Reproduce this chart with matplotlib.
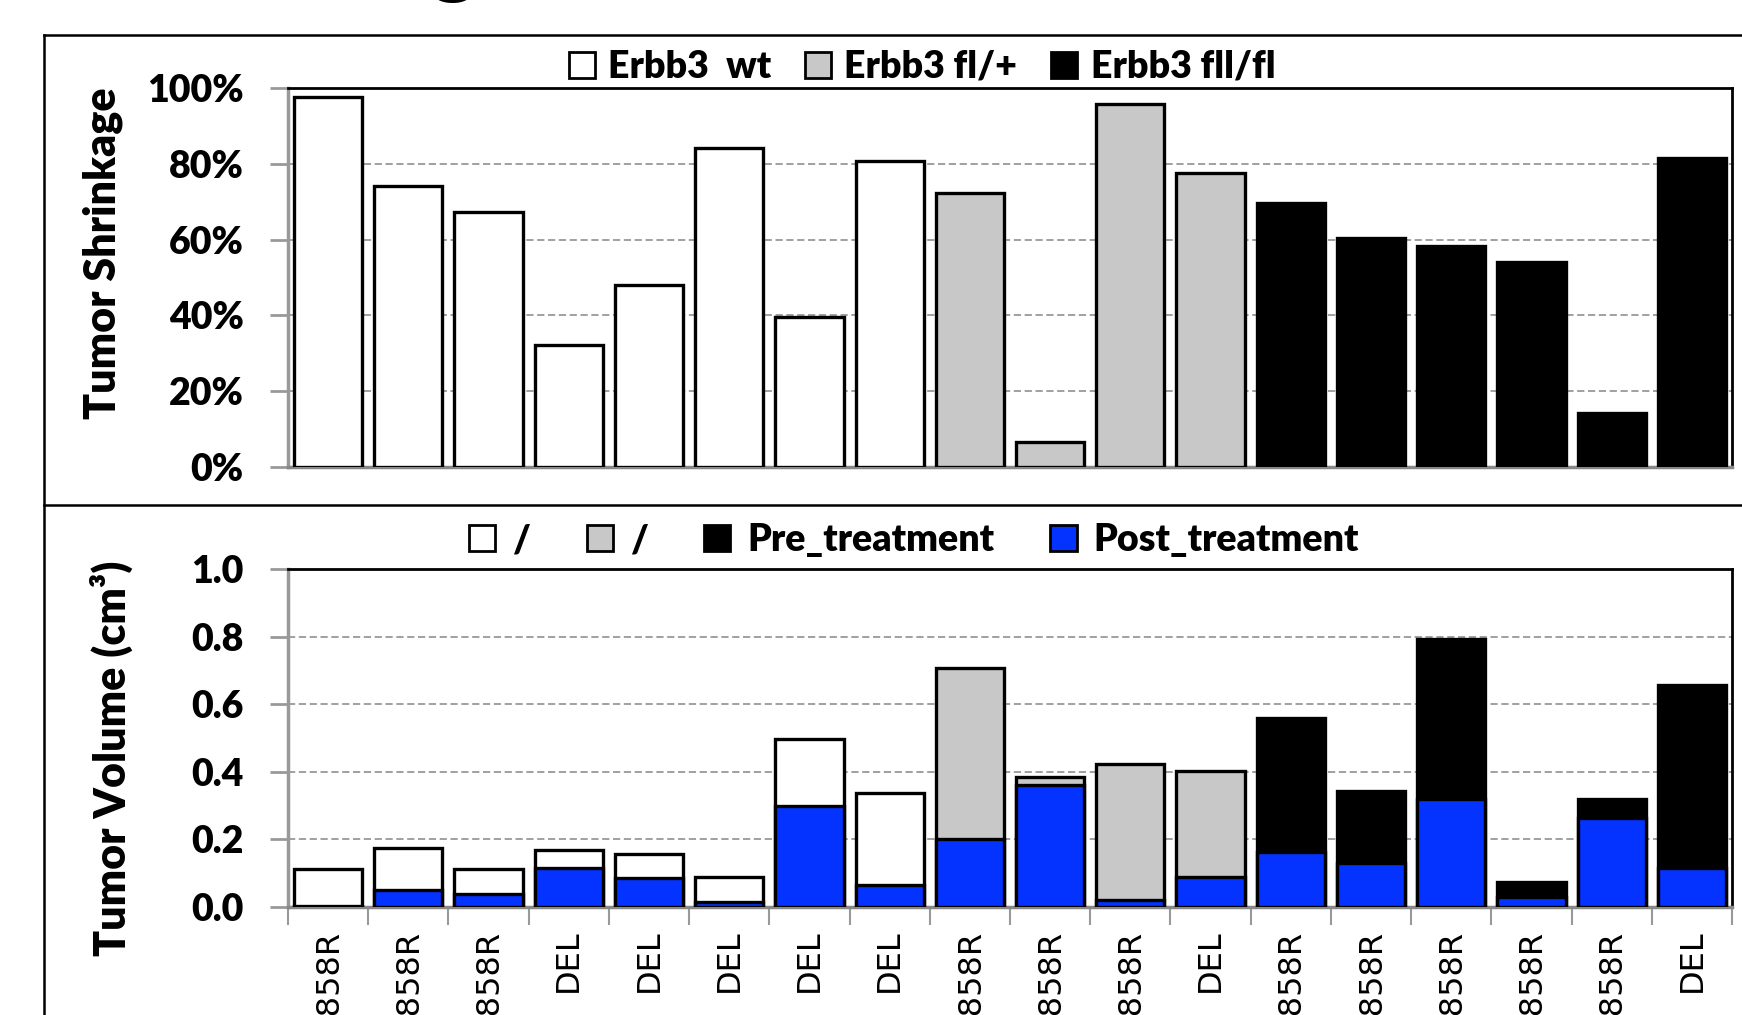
import matplotlib
matplotlib.use("Agg")
import matplotlib.pyplot as plt
from matplotlib.patches import Patch
from matplotlib.lines import Line2D
import numpy as np

# data
mutation = ["L858R", "L858R", "L858R", "DEL", "DEL", "DEL", "DEL", "DEL",
            "L858R", "L858R", "L858R", "DEL",
            "L858R", "L858R", "L858R", "L858R", "L858R", "DEL"]
genotype = ["wt"] * 8 + ["fl/+"] * 4 + ["fl/fl"] * 6
shrinkage = [97.5, 74.2, 67.2, 32.2, 48.1, 84.1, 39.5, 80.8, 72.3, 6.5, 95.9, 77.6,
             69.6, 60.5, 58.4, 54.0, 14.2, 81.6]
pre_vol = [0.112, 0.174, 0.112, 0.168, 0.158, 0.089, 0.497, 0.336, 0.707, 0.385,
           0.424, 0.401, 0.559, 0.344, 0.794, 0.075, 0.320, 0.657]
post_vol = [0.003, 0.049, 0.039, 0.115, 0.086, 0.016, 0.299, 0.066, 0.201, 0.362,
            0.020, 0.088, 0.164, 0.129, 0.321, 0.029, 0.262, 0.116]

geno_colors = {"wt": "white", "fl/+": "#c8c8c8", "fl/fl": "black"}
top_legend = ["Erbb3  wt", "Erbb3 fl/+", "Erbb3 fll/fl"]
bot_legend = ["/", "/", "Pre_treatment", "Post_treatment"]
blue = "#0433ff"
WT = "heavy"

plt.rcParams['font.family'] = ['Lato', 'DejaVu Sans']
plt.rcParams['font.weight'] = WT

fig = plt.figure(figsize=(17.42, 10.15), dpi=100)
W, H = 1742, 1015

ax1 = fig.add_axes([288 / W, 1 - 467 / H, 1444 / W, 379 / H])
ax2 = fig.add_axes([288 / W, 1 - 907 / H, 1444 / W, 338 / H])

x = np.arange(len(shrinkage))
cols = [geno_colors[g] for g in genotype]
bw = 0.85

# top: tumor shrinkage
ax1.bar(x, np.array(shrinkage) / 100, width=bw, color=cols, edgecolor="black",
        linewidth=2.4, zorder=3)
ax1.set_xlim(-0.5, len(x) - 0.5)
ax1.set_ylim(0, 1)
ax1.set_yticks(np.arange(0, 1.01, 0.2))
ax1.set_yticklabels([f"{int(round(v * 100))}%" for v in np.arange(0, 1.01, 0.2)])
ax1.set_xticks([])
ax1.set_ylabel("Tumor Shrinkage", fontsize=31, fontweight=WT)
ax1.yaxis.set_label_coords(-0.1285, 0.565)
ax1.yaxis.label.set_verticalalignment("center")

# bottom: tumor volumes
ax2.bar(x, pre_vol, width=bw, color=cols, edgecolor="black", linewidth=2.4, zorder=3)
ax2.bar(x, post_vol, width=bw, color=blue, edgecolor="black", linewidth=2.4, zorder=4)
ax2.set_xlim(-0.5, len(x) - 0.5)
ax2.set_ylim(0, 1)
ax2.set_yticks(np.arange(0, 1.01, 0.2))
ax2.set_yticklabels([f"{v:.1f}" for v in np.arange(0, 1.01, 0.2)])
ax2.set_xticks(x)
ax2.set_xticklabels(mutation, rotation=90, fontsize=23, fontweight="normal",
                    family="DejaVu Sans", va="top")
ax2.set_xticks(np.arange(-0.5, len(x), 1), minor=True)
ax2.tick_params(axis="x", which="major", length=0, pad=16)
ax2.tick_params(axis="x", which="minor", length=13, width=1.5, color="#999999")
ax2.set_ylabel("Tumor Volume (cm³)", fontsize=31, fontweight=WT)
ax2.yaxis.set_label_coords(-0.122, 0.439)
ax2.yaxis.label.set_verticalalignment("center")

for ax in (ax1, ax2):
    ax.grid(axis="y", linestyle=(0, (4, 2)), color="#999999", linewidth=1.3, zorder=0)
    ax.tick_params(axis="y", length=13, width=2, color="#999999", pad=19, labelsize=27)
    for lab in ax.get_yticklabels():
        lab.set_fontweight(WT)
    ax.spines["left"].set_color("#999999")
    ax.spines["left"].set_linewidth(2.5)
    ax.spines["bottom"].set_color("#888888")
    ax.spines["bottom"].set_linewidth(2.5)
    ax.spines["top"].set_color("black")
    ax.spines["top"].set_linewidth(2)
    ax.spines["right"].set_color("black")
    ax.spines["right"].set_linewidth(2)

# legends
h1 = [Patch(facecolor=geno_colors[g], edgecolor="black", linewidth=2)
      for g in ["wt", "fl/+", "fl/fl"]]
fig.legend(h1, top_legend, loc="center", bbox_to_anchor=(922 / W, 1 - 67 / H), ncol=3,
           frameon=False, handlelength=0.7, handleheight=0.7,
           handletextpad=0.35, columnspacing=0.9, prop={"weight": WT, "size": 27})

h2 = [Patch(facecolor="white", edgecolor="black", linewidth=2),
      Patch(facecolor="#c8c8c8", edgecolor="black", linewidth=2),
      Patch(facecolor="black", edgecolor="black", linewidth=2),
      Patch(facecolor=blue, edgecolor="black", linewidth=2)]
fig.legend(h2, bot_legend, loc="center", bbox_to_anchor=(914 / W, 1 - 540 / H), ncol=4,
           frameon=False, handlelength=0.7, handleheight=0.7,
           handletextpad=0.45, columnspacing=1.5, prop={"weight": WT, "size": 27})

# outer frame of the figure panel
fig.add_artist(Line2D([44 / W, 44 / W], [0, 1 - 35 / H], color="black", lw=1.8,
                      transform=fig.transFigure))
fig.add_artist(Line2D([44 / W, 1], [1 - 35 / H, 1 - 35 / H], color="black", lw=1.8,
                      transform=fig.transFigure))
fig.add_artist(Line2D([44 / W, 1], [1 - 505 / H, 1 - 505 / H], color="black", lw=1.8,
                      transform=fig.transFigure))

# cut-off panel title above the frame
fig.text(453 / W, 1 + 13 / H, "g", fontsize=62, fontweight=WT, ha="center",
         va="baseline")

fig.savefig("out.png", dpi=100)
